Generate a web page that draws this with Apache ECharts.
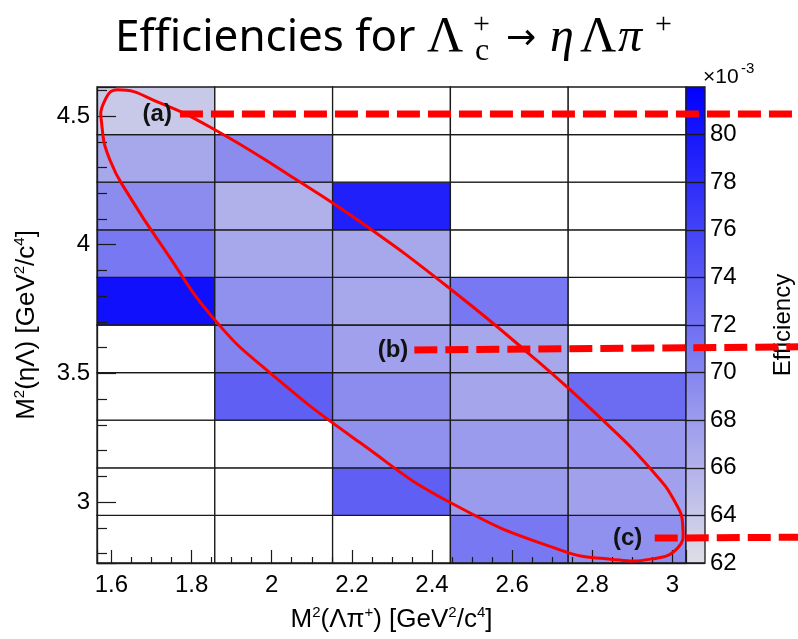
<!DOCTYPE html>
<html>
<head>
<meta charset="utf-8">
<title>Efficiencies for Lambda_c -> eta Lambda pi</title>
<script src="https://cdn.jsdelivr.net/npm/echarts@6/dist/echarts.min.js"></script>
<style>
    html, body { margin: 0; padding: 0; background: #fff; }
    #chart { width: 798px; height: 639px; }
</style>
</head>
<body>
<div id="chart"></div>
<script>
    // bin edges of the 2D histogram [GeV^2/c^4]
    const xEdges = [1.564, 1.858, 2.152, 2.446, 2.740, 3.034];
    const yEdges = [2.763, 2.948, 3.133, 3.318, 3.503, 3.688, 3.873, 4.058, 4.243, 4.428, 4.613];

    // efficiency (x 1e-3), one row per M2(eta Lambda) bin, bottom to top; null = empty bin
    const row0 = [null, null, null, 71.2, 69.0];
    const row1 = [null, null, 73.4, 68.0, 67.6];
    const row2 = [null, null, 69.0, 68.0, 68.3];
    const row3 = [null, 73.4, 69.4, 67.1, 72.3];
    const row4 = [null, 70.1, 67.6, 67.0, null];
    const row5 = [80.6, 69.0, 67.0, 71.2, null];
    const row6 = [71.2, 67.0, 67.0, null, null];
    const row7 = [69.4, 66.1, 79.1, null, null];
    const row8 = [67.0, 69.4, null, null, null];
    const row9 = [64.0, null, null, null, null];
    const effRows = [row0, row1, row2, row3, row4, row5, row6, row7, row8, row9];

    // colour scale range (x 1e-3)
    const zMin = 62, zMax = 82;

    // red ellipse outline
    const ellipseX = [1.616, 1.721, 1.858, 2.046, 2.221, 2.446, 2.646, 2.821, 2.946, 3.008, 3.026,
        3.013, 2.946, 2.846, 2.721, 2.448, 2.221, 1.996, 1.858, 1.733, 1.646, 1.596, 1.576, 1.581];
    const ellipseY = [4.602, 4.551, 4.447, 4.268, 4.089, 3.828, 3.571, 3.326, 3.128, 2.996, 2.903,
        2.821, 2.778, 2.778, 2.813, 2.996, 3.230, 3.502, 3.708, 3.980, 4.186, 4.330, 4.466, 4.552];

    // dashed markers (a) (b) (c)
    const markerNames = ['(a)', '(b)', '(c)'];
    const markerX = [1.771, 2.356, 2.956];
    const markerY = [4.508, 3.591, 2.860];
    const markerYEnd = [4.508, 3.603, 2.863];
    const markerLabelX = [1.751, 2.341, 2.925];

    let cells = [];
    effRows.forEach(function (row, j) {
        row.forEach(function (v, i) {
            cells.push([xEdges[i], xEdges[i + 1], yEdges[j], yEdges[j + 1], v]);
        });
    });

    const markers = markerNames.map(function (n, i) {
        return [markerX[i], markerY[i], markerYEnd[i], markerLabelX[i]];
    });

    const black = '#1a1a1a';
    const rootFont = 'Liberation Sans';
    const axisRich = {
        n: {fontSize: 26, fontFamily: rootFont, color: '#000', lineHeight: 30},
        s: {fontSize: 15, fontFamily: rootFont, color: '#000', lineHeight: 15, verticalAlign: 'top'}
    };

    let chart = echarts.init(document.getElementById('chart'), null, {renderer: 'canvas'});

    chart.setOption({
        animation: false,
        backgroundColor: '#fff',
        textStyle: {fontFamily: rootFont},
        grid: [
            {left: 97, top: 87, width: 589, height: 476, show: false},
            {left: 686, top: 87, width: 19, height: 476, show: true, borderColor: black,
                borderWidth: 1.3, backgroundColor: 'transparent', z: 10}
        ],
        visualMap: {
            type: 'continuous', min: zMin, max: zMax, dimension: 4, seriesIndex: 0,
            inRange: {color: ['#dedee6', '#0000ff']},
            calculable: false, hoverLink: false, text: null, showLabel: false,
            left: 686, top: 87, itemWidth: 19, itemHeight: 476, padding: 0, z: 4
        },
        xAxis: [{
            gridIndex: 0, type: 'value', min: xEdges[0], max: xEdges[xEdges.length - 1],
            minInterval: 0.2, maxInterval: 0.2, splitNumber: 7, z: 4,
            axisLine: {show: true, onZero: false, lineStyle: {color: black, width: 1.3}},
            axisTick: {show: true, inside: true, length: 13, lineStyle: {color: black, width: 1.2}},
            minorTick: {show: true, splitNumber: 4, length: 6, lineStyle: {color: black, width: 1.2}},
            splitLine: {show: false},
            axisLabel: {fontSize: 24, fontFamily: rootFont, color: '#000', margin: 10,
                showMinLabel: false, showMaxLabel: false},
            name: '{n|M}{s|2}{n|(Λπ}{s|+}{n|) [GeV}{s|2}{n|/c}{s|4}{n|]}',
            nameLocation: 'middle', nameGap: 42,
            nameTextStyle: {rich: axisRich}
        }, {
            gridIndex: 1, type: 'value', min: 0, max: 1, show: false
        }],
        yAxis: [{
            gridIndex: 0, type: 'value', min: yEdges[0], max: yEdges[yEdges.length - 1],
            minInterval: 0.5, maxInterval: 0.5, splitNumber: 4, z: 4,
            axisLine: {show: true, onZero: false, lineStyle: {color: black, width: 1.3}},
            axisTick: {show: true, inside: true, length: 19, lineStyle: {color: black, width: 1.2}},
            minorTick: {show: true, splitNumber: 5, length: 10, lineStyle: {color: black, width: 1.2}},
            splitLine: {show: false},
            axisLabel: {fontSize: 24, fontFamily: rootFont, color: '#000', margin: 7,
                showMinLabel: false, showMaxLabel: false},
            name: '{n|M}{s|2}{n|(ηΛ) [GeV}{s|2}{n|/c}{s|4}{n|]}',
            nameLocation: 'middle', nameGap: 55,
            nameTextStyle: {rich: axisRich}
        }, {
            gridIndex: 1, type: 'value', min: zMin, max: zMax, interval: 2, position: 'right',
            axisLine: {show: false},
            axisTick: {show: false},
            splitLine: {show: true, lineStyle: {color: black, width: 1.3}},
            axisLabel: {fontSize: 24, fontFamily: rootFont, color: '#000', margin: 5, showMaxLabel: false},
            name: 'Efficiency', nameLocation: 'middle', nameGap: 66,
            nameTextStyle: {fontSize: 24, fontFamily: rootFont, color: '#000'},
            z: 10
        }],
        series: [{
            name: 'efficiency', type: 'custom', xAxisIndex: 0, yAxisIndex: 0,
            encode: {x: [0, 1], y: [2, 3]},
            data: cells,
            z: 2,
            renderItem: function (params, api) {
                let v = api.value(4);
                let p0 = api.coord([api.value(0), api.value(3)]);
                let p1 = api.coord([api.value(1), api.value(2)]);
                return {
                    type: 'rect',
                    shape: {x: p0[0], y: p0[1], width: p1[0] - p0[0], height: p1[1] - p0[1]},
                    style: {fill: isNaN(v) ? '#fff' : api.visual('color'), stroke: black, lineWidth: 1.3}
                };
            }
        }, {
            name: 'ellipse', type: 'custom', xAxisIndex: 0, yAxisIndex: 0,
            data: [[ellipseX[0], ellipseY[0]]],
            clip: false, silent: true, z: 5,
            renderItem: function (params, api) {
                let pts = ellipseX.map(function (x, i) { return api.coord([x, ellipseY[i]]); });
                return {
                    type: 'polygon',
                    shape: {points: pts, smooth: 0.5},
                    style: {fill: 'none', stroke: '#ff0000', lineWidth: 3}
                };
            }
        }, {
            name: 'markers', type: 'custom', xAxisIndex: 0, yAxisIndex: 0,
            data: markers,
            clip: false, silent: true, z: 20,
            renderItem: function (params, api) {
                let p = api.coord([api.value(0), api.value(1)]);
                let pe = api.coord([api.value(0), api.value(2)]);
                let pl = api.coord([api.value(3), api.value(1)]);
                return {
                    type: 'group',
                    children: [{
                        type: 'line',
                        shape: {x1: p[0], y1: p[1], x2: api.getWidth(), y2: pe[1]},
                        style: {stroke: '#ff0000', lineWidth: 7, lineDash: [23, 8]}
                    }, {
                        type: 'text', x: pl[0], y: pl[1],
                        style: {text: markerNames[params.dataIndex], fill: '#111',
                            font: 'bold 24px "Liberation Sans"', align: 'right', verticalAlign: 'middle'}
                    }]
                };
            }
        }],
        graphic: [
            // title: Efficiencies for Lambda_c^+ -> eta Lambda pi^+
            {type: 'text', x: 115, y: 38, style: {text: 'Efficiencies for', font: '44px "Noto Sans"', fill: '#000', verticalAlign: 'middle'}},
            {type: 'text', x: 427, y: 38, style: {text: 'Λ', font: '50px "Liberation Serif"', fill: '#000', verticalAlign: 'middle'}},
            {type: 'text', x: 473, y: 25, style: {text: '+', font: '30px "Liberation Serif"', fill: '#000', verticalAlign: 'middle'}},
            {type: 'text', x: 475, y: 52, style: {text: 'c', font: '32px "Liberation Serif"', fill: '#000', verticalAlign: 'middle'}},
            {type: 'text', x: 506, y: 40, style: {text: '→', font: '36px "DejaVu Sans"', fill: '#000', verticalAlign: 'middle'}},
            {type: 'text', x: 550, y: 38, style: {text: 'η', font: 'italic 48px "Liberation Serif"', fill: '#000', verticalAlign: 'middle'}},
            {type: 'text', x: 580, y: 38, style: {text: 'Λ', font: '50px "Liberation Serif"', fill: '#000', verticalAlign: 'middle'}},
            {type: 'text', x: 618, y: 38, style: {text: 'π', font: 'italic 48px "Liberation Serif"', fill: '#000', verticalAlign: 'middle'}},
            {type: 'text', x: 655, y: 25, style: {text: '+', font: '30px "Liberation Serif"', fill: '#000', verticalAlign: 'middle'}},
            // colour axis exponent
            {type: 'text', x: 703, y: 77, style: {text: '×10', font: '21px "Liberation Sans"', fill: '#000', verticalAlign: 'middle'}},
            {type: 'text', x: 741, y: 69, style: {text: '-3', font: '15px "Liberation Sans"', fill: '#000', verticalAlign: 'middle'}}
        ]
    });
</script>
</body>
</html>
